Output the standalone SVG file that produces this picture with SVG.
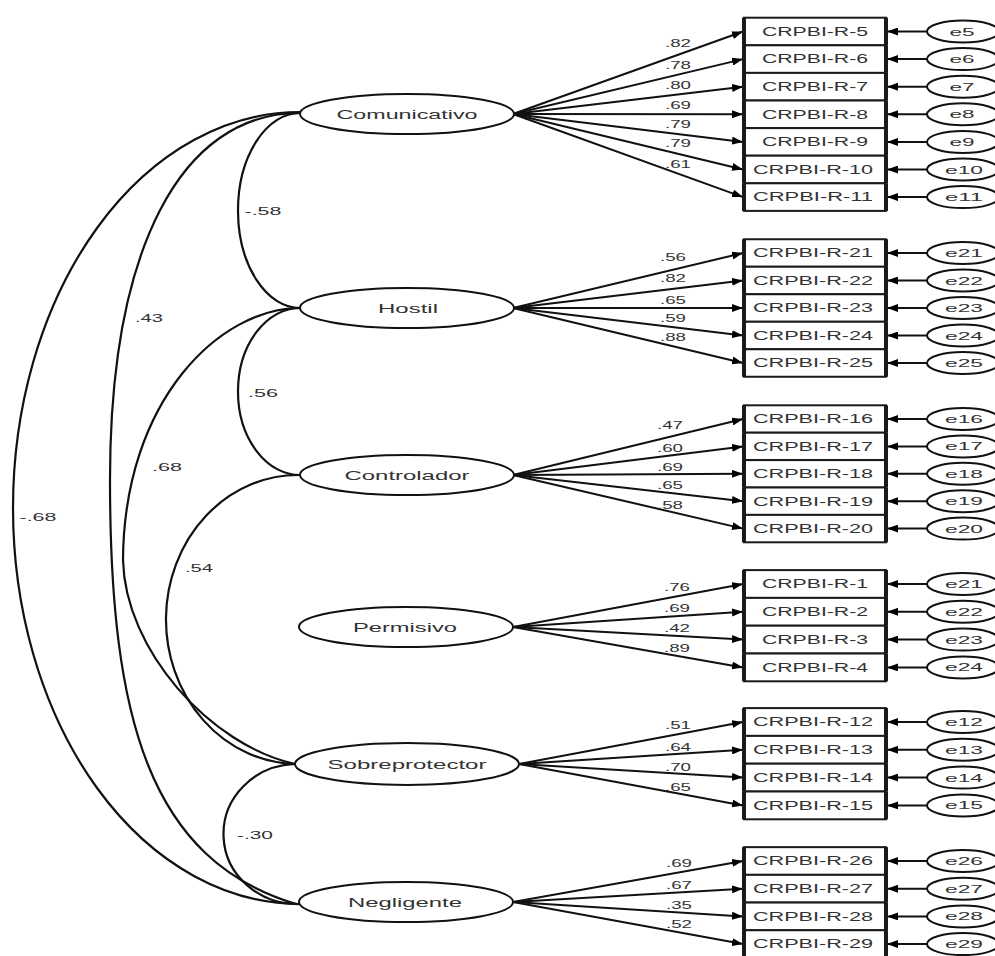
<svg xmlns="http://www.w3.org/2000/svg" width="995" height="956" viewBox="0 0 995 956">
<defs>
<style>
.bg{fill:#fff}
.lat ellipse{fill:#fff;stroke:#111;stroke-width:2}
.err ellipse{fill:#fff;stroke:#111;stroke-width:2}
.box rect{fill:#fff;stroke:#1a1a1a;stroke-width:2}
.box line{stroke:#1a1a1a;stroke-width:4}
text{font-family:"Liberation Sans",Arial,sans-serif;fill:#333}
.lt{font-size:12px;text-anchor:middle}
.bt{font-size:12px;text-anchor:middle}
.et{font-size:11px;text-anchor:middle}
.nl{font-size:11px;text-anchor:middle}
.cov path{fill:none;stroke:#111;stroke-width:2.2}
.ld line{stroke:#111;stroke-width:2;marker-end:url(#ah)}
</style>
<marker id="ah" markerUnits="userSpaceOnUse" markerWidth="11" markerHeight="8" refX="11" refY="4" orient="auto">
<path d="M0,0 L11,4 L0,8 z" fill="#000"/>
</marker>
</defs>
<rect class="bg" x="0" y="0" width="995" height="956"/>

<g id="connectors">
<g class="cov">
<path d="M300,112 A287,396 0 0,0 300,904"/>
<path d="M300,113 C180,113 110,250 110,480 C110,720 150,860 296,904"/>
<path d="M300,308 C220,308 124,400 123,560 C125,650 210,745 295,764"/>
<path d="M300,475 A132,144.5 0 0,0 296,764"/>
<path d="M300,113 A62,97.5 0 0,0 300,308"/>
<path d="M300,308 A62,83.5 0 0,0 300,475"/>
<path d="M295,764 A74,70 0 0,0 300,904"/>
</g>
<g class="ld">
<line x1="513" y1="114" x2="743" y2="31.5"/>
<line x1="513" y1="114" x2="743" y2="59.1"/>
<line x1="513" y1="114" x2="743" y2="86.7"/>
<line x1="513" y1="114" x2="743" y2="114.3"/>
<line x1="513" y1="114" x2="743" y2="141.9"/>
<line x1="513" y1="114" x2="743" y2="169.5"/>
<line x1="513" y1="114" x2="743" y2="197.1"/>
<line x1="513" y1="308" x2="743" y2="253"/>
<line x1="513" y1="308" x2="743" y2="280.5"/>
<line x1="513" y1="308" x2="743" y2="308"/>
<line x1="513" y1="308" x2="743" y2="335.5"/>
<line x1="513" y1="308" x2="743" y2="363"/>
<line x1="513" y1="475" x2="743" y2="419"/>
<line x1="513" y1="475" x2="743" y2="446.4"/>
<line x1="513" y1="475" x2="743" y2="473.8"/>
<line x1="513" y1="475" x2="743" y2="501.2"/>
<line x1="513" y1="475" x2="743" y2="528.6"/>
<line x1="513" y1="627" x2="743" y2="584"/>
<line x1="513" y1="627" x2="743" y2="611.8"/>
<line x1="513" y1="627" x2="743" y2="639.6"/>
<line x1="513" y1="627" x2="743" y2="667.4"/>
<line x1="519" y1="764" x2="743" y2="722"/>
<line x1="519" y1="764" x2="743" y2="749.8"/>
<line x1="519" y1="764" x2="743" y2="777.6"/>
<line x1="519" y1="764" x2="743" y2="805.4"/>
<line x1="513" y1="902" x2="743" y2="861"/>
<line x1="513" y1="902" x2="743" y2="888.7"/>
<line x1="513" y1="902" x2="743" y2="916.4"/>
<line x1="513" y1="902" x2="743" y2="944.1"/>
<line x1="927" y1="31.5" x2="887" y2="31.5"/>
<line x1="927" y1="59.1" x2="887" y2="59.1"/>
<line x1="927" y1="86.7" x2="887" y2="86.7"/>
<line x1="927" y1="114.3" x2="887" y2="114.3"/>
<line x1="927" y1="141.9" x2="887" y2="141.9"/>
<line x1="927" y1="169.5" x2="887" y2="169.5"/>
<line x1="927" y1="197.1" x2="887" y2="197.1"/>
<line x1="927" y1="253" x2="887" y2="253"/>
<line x1="927" y1="280.5" x2="887" y2="280.5"/>
<line x1="927" y1="308" x2="887" y2="308"/>
<line x1="927" y1="335.5" x2="887" y2="335.5"/>
<line x1="927" y1="363" x2="887" y2="363"/>
<line x1="927" y1="419" x2="887" y2="419"/>
<line x1="927" y1="446.4" x2="887" y2="446.4"/>
<line x1="927" y1="473.8" x2="887" y2="473.8"/>
<line x1="927" y1="501.2" x2="887" y2="501.2"/>
<line x1="927" y1="528.6" x2="887" y2="528.6"/>
<line x1="927" y1="584" x2="887" y2="584"/>
<line x1="927" y1="611.8" x2="887" y2="611.8"/>
<line x1="927" y1="639.6" x2="887" y2="639.6"/>
<line x1="927" y1="667.4" x2="887" y2="667.4"/>
<line x1="927" y1="722" x2="887" y2="722"/>
<line x1="927" y1="749.8" x2="887" y2="749.8"/>
<line x1="927" y1="777.6" x2="887" y2="777.6"/>
<line x1="927" y1="805.4" x2="887" y2="805.4"/>
<line x1="927" y1="861" x2="887" y2="861"/>
<line x1="927" y1="888.7" x2="887" y2="888.7"/>
<line x1="927" y1="916.4" x2="887" y2="916.4"/>
<line x1="927" y1="944.1" x2="887" y2="944.1"/>
</g>
<g class="cl">
<text class="nl" x="263" y="215" textLength="37" lengthAdjust="spacingAndGlyphs">-.58</text>
<text class="nl" x="149" y="322" textLength="28" lengthAdjust="spacingAndGlyphs">.43</text>
<text class="nl" x="263" y="397" textLength="30" lengthAdjust="spacingAndGlyphs">.56</text>
<text class="nl" x="167" y="471" textLength="30" lengthAdjust="spacingAndGlyphs">.68</text>
<text class="nl" x="38" y="521" textLength="37" lengthAdjust="spacingAndGlyphs">-.68</text>
<text class="nl" x="199" y="572" textLength="28" lengthAdjust="spacingAndGlyphs">.54</text>
<text class="nl" x="255" y="839" textLength="36" lengthAdjust="spacingAndGlyphs">-.30</text>
</g>
<g class="ll">
<text class="nl" x="678" y="47" textLength="26" lengthAdjust="spacingAndGlyphs">.82</text>
<text class="nl" x="678" y="69" textLength="26" lengthAdjust="spacingAndGlyphs">.78</text>
<text class="nl" x="678" y="89" textLength="26" lengthAdjust="spacingAndGlyphs">.80</text>
<text class="nl" x="678" y="109" textLength="26" lengthAdjust="spacingAndGlyphs">.69</text>
<text class="nl" x="678" y="128" textLength="26" lengthAdjust="spacingAndGlyphs">.79</text>
<text class="nl" x="678" y="147" textLength="26" lengthAdjust="spacingAndGlyphs">.79</text>
<text class="nl" x="678" y="168" textLength="26" lengthAdjust="spacingAndGlyphs">.61</text>
<text class="nl" x="673" y="261" textLength="26" lengthAdjust="spacingAndGlyphs">.56</text>
<text class="nl" x="673" y="282" textLength="26" lengthAdjust="spacingAndGlyphs">.82</text>
<text class="nl" x="673" y="304" textLength="26" lengthAdjust="spacingAndGlyphs">.65</text>
<text class="nl" x="673" y="322" textLength="26" lengthAdjust="spacingAndGlyphs">.59</text>
<text class="nl" x="673" y="341" textLength="26" lengthAdjust="spacingAndGlyphs">.88</text>
<text class="nl" x="670" y="429" textLength="26" lengthAdjust="spacingAndGlyphs">.47</text>
<text class="nl" x="670" y="452" textLength="26" lengthAdjust="spacingAndGlyphs">.60</text>
<text class="nl" x="670" y="471" textLength="26" lengthAdjust="spacingAndGlyphs">.69</text>
<text class="nl" x="670" y="489" textLength="26" lengthAdjust="spacingAndGlyphs">.65</text>
<text class="nl" x="670" y="509" textLength="26" lengthAdjust="spacingAndGlyphs">.58</text>
<text class="nl" x="677" y="591" textLength="26" lengthAdjust="spacingAndGlyphs">.76</text>
<text class="nl" x="677" y="612" textLength="26" lengthAdjust="spacingAndGlyphs">.69</text>
<text class="nl" x="677" y="632" textLength="26" lengthAdjust="spacingAndGlyphs">.42</text>
<text class="nl" x="677" y="652" textLength="26" lengthAdjust="spacingAndGlyphs">.89</text>
<text class="nl" x="678" y="729" textLength="26" lengthAdjust="spacingAndGlyphs">.51</text>
<text class="nl" x="678" y="751" textLength="26" lengthAdjust="spacingAndGlyphs">.64</text>
<text class="nl" x="678" y="771" textLength="26" lengthAdjust="spacingAndGlyphs">.70</text>
<text class="nl" x="678" y="791" textLength="26" lengthAdjust="spacingAndGlyphs">.65</text>
<text class="nl" x="679" y="867" textLength="26" lengthAdjust="spacingAndGlyphs">.69</text>
<text class="nl" x="679" y="889" textLength="26" lengthAdjust="spacingAndGlyphs">.67</text>
<text class="nl" x="679" y="909" textLength="26" lengthAdjust="spacingAndGlyphs">.35</text>
<text class="nl" x="679" y="928" textLength="26" lengthAdjust="spacingAndGlyphs">.52</text>
</g>
</g>

<g id="latents" class="lat">
<g id="comunicativo"><ellipse cx="407" cy="114" rx="107" ry="20"/><text class="lt" x="407" y="119" textLength="141" lengthAdjust="spacingAndGlyphs">Comunicativo</text></g>
<g id="hostil"><ellipse cx="407" cy="308" rx="107" ry="20"/><text class="lt" x="408" y="313" textLength="60" lengthAdjust="spacingAndGlyphs">Hostil</text></g>
<g id="controlador"><ellipse cx="407" cy="475" rx="107" ry="20"/><text class="lt" x="407" y="480" textLength="125" lengthAdjust="spacingAndGlyphs">Controlador</text></g>
<g id="permisivo"><ellipse cx="406" cy="627" rx="107" ry="20"/><text class="lt" x="405" y="632" textLength="104" lengthAdjust="spacingAndGlyphs">Permisivo</text></g>
<g id="sobreprotector"><ellipse cx="407" cy="764" rx="112" ry="21"/><text class="lt" x="407" y="769" textLength="159" lengthAdjust="spacingAndGlyphs">Sobreprotector</text></g>
<g id="negligente"><ellipse cx="406" cy="902" rx="107" ry="20"/><text class="lt" x="405" y="907" textLength="114" lengthAdjust="spacingAndGlyphs">Negligente</text></g>
</g>

<g id="indicators" class="box">
<g id="r5"><rect x="744" y="17.7" width="142" height="27.6"/><line x1="744" y1="17.7" x2="744" y2="45.3"/><line x1="886" y1="17.7" x2="886" y2="45.3"/><text class="bt" x="815" y="35.8" textLength="106" lengthAdjust="spacingAndGlyphs">CRPBI-R-5</text></g>
<g id="r6"><rect x="744" y="45.3" width="142" height="27.6"/><line x1="744" y1="45.3" x2="744" y2="72.9"/><line x1="886" y1="45.3" x2="886" y2="72.9"/><text class="bt" x="815" y="63.4" textLength="106" lengthAdjust="spacingAndGlyphs">CRPBI-R-6</text></g>
<g id="r7"><rect x="744" y="72.9" width="142" height="27.6"/><line x1="744" y1="72.9" x2="744" y2="100.5"/><line x1="886" y1="72.9" x2="886" y2="100.5"/><text class="bt" x="815" y="91" textLength="106" lengthAdjust="spacingAndGlyphs">CRPBI-R-7</text></g>
<g id="r8"><rect x="744" y="100.5" width="142" height="27.6"/><line x1="744" y1="100.5" x2="744" y2="128.1"/><line x1="886" y1="100.5" x2="886" y2="128.1"/><text class="bt" x="815" y="118.6" textLength="106" lengthAdjust="spacingAndGlyphs">CRPBI-R-8</text></g>
<g id="r9"><rect x="744" y="128.1" width="142" height="27.6"/><line x1="744" y1="128.1" x2="744" y2="155.7"/><line x1="886" y1="128.1" x2="886" y2="155.7"/><text class="bt" x="815" y="146.2" textLength="106" lengthAdjust="spacingAndGlyphs">CRPBI-R-9</text></g>
<g id="r10"><rect x="744" y="155.7" width="142" height="27.6"/><line x1="744" y1="155.7" x2="744" y2="183.3"/><line x1="886" y1="155.7" x2="886" y2="183.3"/><text class="bt" x="813" y="173.8" textLength="120" lengthAdjust="spacingAndGlyphs">CRPBI-R-10</text></g>
<g id="r11"><rect x="744" y="183.3" width="142" height="27.6"/><line x1="744" y1="183.3" x2="744" y2="210.9"/><line x1="886" y1="183.3" x2="886" y2="210.9"/><text class="bt" x="813" y="201.4" textLength="120" lengthAdjust="spacingAndGlyphs">CRPBI-R-11</text></g>

<g id="r21"><rect x="744" y="239.25" width="142" height="27.5"/><line x1="744" y1="239.25" x2="744" y2="266.75"/><line x1="886" y1="239.25" x2="886" y2="266.75"/><text class="bt" x="813" y="257.3" textLength="120" lengthAdjust="spacingAndGlyphs">CRPBI-R-21</text></g>
<g id="r22"><rect x="744" y="266.75" width="142" height="27.5"/><line x1="744" y1="266.75" x2="744" y2="294.25"/><line x1="886" y1="266.75" x2="886" y2="294.25"/><text class="bt" x="813" y="284.8" textLength="120" lengthAdjust="spacingAndGlyphs">CRPBI-R-22</text></g>
<g id="r23"><rect x="744" y="294.25" width="142" height="27.5"/><line x1="744" y1="294.25" x2="744" y2="321.75"/><line x1="886" y1="294.25" x2="886" y2="321.75"/><text class="bt" x="813" y="312.3" textLength="120" lengthAdjust="spacingAndGlyphs">CRPBI-R-23</text></g>
<g id="r24"><rect x="744" y="321.75" width="142" height="27.5"/><line x1="744" y1="321.75" x2="744" y2="349.25"/><line x1="886" y1="321.75" x2="886" y2="349.25"/><text class="bt" x="813" y="339.8" textLength="120" lengthAdjust="spacingAndGlyphs">CRPBI-R-24</text></g>
<g id="r25"><rect x="744" y="349.25" width="142" height="27.5"/><line x1="744" y1="349.25" x2="744" y2="376.75"/><line x1="886" y1="349.25" x2="886" y2="376.75"/><text class="bt" x="813" y="367.3" textLength="120" lengthAdjust="spacingAndGlyphs">CRPBI-R-25</text></g>

<g id="r16"><rect x="744" y="405.3" width="142" height="27.4"/><line x1="744" y1="405.3" x2="744" y2="432.7"/><line x1="886" y1="405.3" x2="886" y2="432.7"/><text class="bt" x="813" y="423.3" textLength="120" lengthAdjust="spacingAndGlyphs">CRPBI-R-16</text></g>
<g id="r17"><rect x="744" y="432.7" width="142" height="27.4"/><line x1="744" y1="432.7" x2="744" y2="460.1"/><line x1="886" y1="432.7" x2="886" y2="460.1"/><text class="bt" x="813" y="450.7" textLength="120" lengthAdjust="spacingAndGlyphs">CRPBI-R-17</text></g>
<g id="r18"><rect x="744" y="460.1" width="142" height="27.4"/><line x1="744" y1="460.1" x2="744" y2="487.5"/><line x1="886" y1="460.1" x2="886" y2="487.5"/><text class="bt" x="813" y="478.1" textLength="120" lengthAdjust="spacingAndGlyphs">CRPBI-R-18</text></g>
<g id="r19"><rect x="744" y="487.5" width="142" height="27.4"/><line x1="744" y1="487.5" x2="744" y2="514.9"/><line x1="886" y1="487.5" x2="886" y2="514.9"/><text class="bt" x="813" y="505.5" textLength="120" lengthAdjust="spacingAndGlyphs">CRPBI-R-19</text></g>
<g id="r20"><rect x="744" y="514.9" width="142" height="27.4"/><line x1="744" y1="514.9" x2="744" y2="542.3"/><line x1="886" y1="514.9" x2="886" y2="542.3"/><text class="bt" x="813" y="532.9" textLength="120" lengthAdjust="spacingAndGlyphs">CRPBI-R-20</text></g>

<g id="r1"><rect x="744" y="570.1" width="142" height="27.8"/><line x1="744" y1="570.1" x2="744" y2="597.9"/><line x1="886" y1="570.1" x2="886" y2="597.9"/><text class="bt" x="815" y="588.3" textLength="106" lengthAdjust="spacingAndGlyphs">CRPBI-R-1</text></g>
<g id="r2"><rect x="744" y="597.9" width="142" height="27.8"/><line x1="744" y1="597.9" x2="744" y2="625.7"/><line x1="886" y1="597.9" x2="886" y2="625.7"/><text class="bt" x="815" y="616.1" textLength="106" lengthAdjust="spacingAndGlyphs">CRPBI-R-2</text></g>
<g id="r3"><rect x="744" y="625.7" width="142" height="27.8"/><line x1="744" y1="625.7" x2="744" y2="653.5"/><line x1="886" y1="625.7" x2="886" y2="653.5"/><text class="bt" x="815" y="643.9" textLength="106" lengthAdjust="spacingAndGlyphs">CRPBI-R-3</text></g>
<g id="r4"><rect x="744" y="653.5" width="142" height="27.8"/><line x1="744" y1="653.5" x2="744" y2="681.3"/><line x1="886" y1="653.5" x2="886" y2="681.3"/><text class="bt" x="815" y="671.7" textLength="106" lengthAdjust="spacingAndGlyphs">CRPBI-R-4</text></g>

<g id="r12"><rect x="744" y="708.1" width="142" height="27.8"/><line x1="744" y1="708.1" x2="744" y2="735.9"/><line x1="886" y1="708.1" x2="886" y2="735.9"/><text class="bt" x="813" y="726.3" textLength="120" lengthAdjust="spacingAndGlyphs">CRPBI-R-12</text></g>
<g id="r13"><rect x="744" y="735.9" width="142" height="27.8"/><line x1="744" y1="735.9" x2="744" y2="763.7"/><line x1="886" y1="735.9" x2="886" y2="763.7"/><text class="bt" x="813" y="754.1" textLength="120" lengthAdjust="spacingAndGlyphs">CRPBI-R-13</text></g>
<g id="r14"><rect x="744" y="763.7" width="142" height="27.8"/><line x1="744" y1="763.7" x2="744" y2="791.5"/><line x1="886" y1="763.7" x2="886" y2="791.5"/><text class="bt" x="813" y="781.9" textLength="120" lengthAdjust="spacingAndGlyphs">CRPBI-R-14</text></g>
<g id="r15"><rect x="744" y="791.5" width="142" height="27.8"/><line x1="744" y1="791.5" x2="744" y2="819.3"/><line x1="886" y1="791.5" x2="886" y2="819.3"/><text class="bt" x="813" y="809.7" textLength="120" lengthAdjust="spacingAndGlyphs">CRPBI-R-15</text></g>

<g id="r26"><rect x="744" y="847.15" width="142" height="27.7"/><line x1="744" y1="847.15" x2="744" y2="874.85"/><line x1="886" y1="847.15" x2="886" y2="874.85"/><text class="bt" x="813" y="865.3" textLength="120" lengthAdjust="spacingAndGlyphs">CRPBI-R-26</text></g>
<g id="r27"><rect x="744" y="874.85" width="142" height="27.7"/><line x1="744" y1="874.85" x2="744" y2="902.55"/><line x1="886" y1="874.85" x2="886" y2="902.55"/><text class="bt" x="813" y="893" textLength="120" lengthAdjust="spacingAndGlyphs">CRPBI-R-27</text></g>
<g id="r28"><rect x="744" y="902.55" width="142" height="27.7"/><line x1="744" y1="902.55" x2="744" y2="930.25"/><line x1="886" y1="902.55" x2="886" y2="930.25"/><text class="bt" x="813" y="920.7" textLength="120" lengthAdjust="spacingAndGlyphs">CRPBI-R-28</text></g>
<g id="r29"><rect x="744" y="930.25" width="142" height="27.7"/><line x1="744" y1="930.25" x2="744" y2="957.95"/><line x1="886" y1="930.25" x2="886" y2="957.95"/><text class="bt" x="813" y="948.4" textLength="120" lengthAdjust="spacingAndGlyphs">CRPBI-R-29</text></g>
</g>

<g id="errors" class="err">
<g id="e5"><ellipse cx="963" cy="31.5" rx="36" ry="11"/><text class="et" x="962" y="35.5" textLength="25" lengthAdjust="spacingAndGlyphs">e5</text></g>
<g id="e6"><ellipse cx="963" cy="59.1" rx="36" ry="11"/><text class="et" x="962" y="63.1" textLength="25" lengthAdjust="spacingAndGlyphs">e6</text></g>
<g id="e7"><ellipse cx="963" cy="86.7" rx="36" ry="11"/><text class="et" x="962" y="90.7" textLength="25" lengthAdjust="spacingAndGlyphs">e7</text></g>
<g id="e8"><ellipse cx="963" cy="114.3" rx="36" ry="11"/><text class="et" x="962" y="118.3" textLength="25" lengthAdjust="spacingAndGlyphs">e8</text></g>
<g id="e9"><ellipse cx="963" cy="141.9" rx="36" ry="11"/><text class="et" x="962" y="145.9" textLength="25" lengthAdjust="spacingAndGlyphs">e9</text></g>
<g id="e10"><ellipse cx="963" cy="169.5" rx="36" ry="11"/><text class="et" x="964" y="173.5" textLength="38" lengthAdjust="spacingAndGlyphs">e10</text></g>
<g id="e11"><ellipse cx="963" cy="197.1" rx="36" ry="11"/><text class="et" x="964" y="201.1" textLength="38" lengthAdjust="spacingAndGlyphs">e11</text></g>
<g id="e21a"><ellipse cx="963" cy="253" rx="36" ry="11"/><text class="et" x="964" y="257" textLength="38" lengthAdjust="spacingAndGlyphs">e21</text></g>
<g id="e22a"><ellipse cx="963" cy="280.5" rx="36" ry="11"/><text class="et" x="964" y="284.5" textLength="38" lengthAdjust="spacingAndGlyphs">e22</text></g>
<g id="e23a"><ellipse cx="963" cy="308" rx="36" ry="11"/><text class="et" x="964" y="312" textLength="38" lengthAdjust="spacingAndGlyphs">e23</text></g>
<g id="e24a"><ellipse cx="963" cy="335.5" rx="36" ry="11"/><text class="et" x="964" y="339.5" textLength="38" lengthAdjust="spacingAndGlyphs">e24</text></g>
<g id="e25"><ellipse cx="963" cy="363" rx="36" ry="11"/><text class="et" x="964" y="367" textLength="38" lengthAdjust="spacingAndGlyphs">e25</text></g>
<g id="e16"><ellipse cx="963" cy="419" rx="36" ry="11"/><text class="et" x="964" y="423" textLength="38" lengthAdjust="spacingAndGlyphs">e16</text></g>
<g id="e17"><ellipse cx="963" cy="446.4" rx="36" ry="11"/><text class="et" x="964" y="450.4" textLength="38" lengthAdjust="spacingAndGlyphs">e17</text></g>
<g id="e18"><ellipse cx="963" cy="473.8" rx="36" ry="11"/><text class="et" x="964" y="477.8" textLength="38" lengthAdjust="spacingAndGlyphs">e18</text></g>
<g id="e19"><ellipse cx="963" cy="501.2" rx="36" ry="11"/><text class="et" x="964" y="505.2" textLength="38" lengthAdjust="spacingAndGlyphs">e19</text></g>
<g id="e20"><ellipse cx="963" cy="528.6" rx="36" ry="11"/><text class="et" x="964" y="532.6" textLength="38" lengthAdjust="spacingAndGlyphs">e20</text></g>
<g id="e21b"><ellipse cx="963" cy="584" rx="36" ry="11"/><text class="et" x="964" y="588" textLength="38" lengthAdjust="spacingAndGlyphs">e21</text></g>
<g id="e22b"><ellipse cx="963" cy="611.8" rx="36" ry="11"/><text class="et" x="964" y="615.8" textLength="38" lengthAdjust="spacingAndGlyphs">e22</text></g>
<g id="e23b"><ellipse cx="963" cy="639.6" rx="36" ry="11"/><text class="et" x="964" y="643.6" textLength="38" lengthAdjust="spacingAndGlyphs">e23</text></g>
<g id="e24b"><ellipse cx="963" cy="667.4" rx="36" ry="11"/><text class="et" x="964" y="671.4" textLength="38" lengthAdjust="spacingAndGlyphs">e24</text></g>
<g id="e12"><ellipse cx="963" cy="722" rx="36" ry="11"/><text class="et" x="964" y="726" textLength="38" lengthAdjust="spacingAndGlyphs">e12</text></g>
<g id="e13"><ellipse cx="963" cy="749.8" rx="36" ry="11"/><text class="et" x="964" y="753.8" textLength="38" lengthAdjust="spacingAndGlyphs">e13</text></g>
<g id="e14"><ellipse cx="963" cy="777.6" rx="36" ry="11"/><text class="et" x="964" y="781.6" textLength="38" lengthAdjust="spacingAndGlyphs">e14</text></g>
<g id="e15"><ellipse cx="963" cy="805.4" rx="36" ry="11"/><text class="et" x="964" y="809.4" textLength="38" lengthAdjust="spacingAndGlyphs">e15</text></g>
<g id="e26"><ellipse cx="963" cy="861" rx="36" ry="11"/><text class="et" x="964" y="865" textLength="38" lengthAdjust="spacingAndGlyphs">e26</text></g>
<g id="e27"><ellipse cx="963" cy="888.7" rx="36" ry="11"/><text class="et" x="964" y="892.7" textLength="38" lengthAdjust="spacingAndGlyphs">e27</text></g>
<g id="e28"><ellipse cx="963" cy="916.4" rx="36" ry="11"/><text class="et" x="964" y="920.4" textLength="38" lengthAdjust="spacingAndGlyphs">e28</text></g>
<g id="e29"><ellipse cx="963" cy="944.1" rx="36" ry="11"/><text class="et" x="964" y="948.1" textLength="38" lengthAdjust="spacingAndGlyphs">e29</text></g>
</g>
</svg>
